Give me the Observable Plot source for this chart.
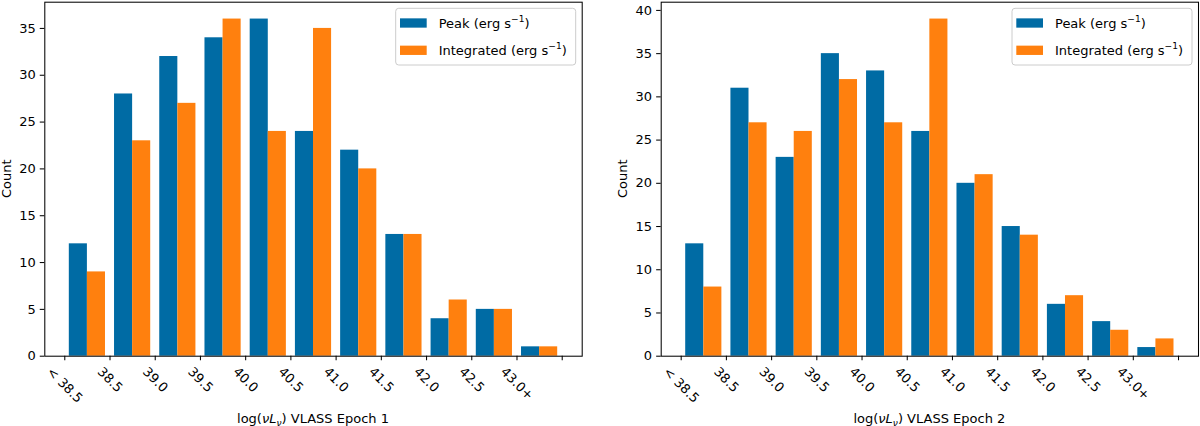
<!DOCTYPE html>
<html>
<head>
<meta charset="utf-8">
<script src="https://cdn.jsdelivr.net/npm/d3@7"></script>
<script src="https://cdn.jsdelivr.net/npm/@observablehq/plot@0.6"></script>
<style>
  html, body { margin: 0; padding: 0; background: white; }
  #row { display: flex; width: 1200px; height: 426px; }
  #row svg { display: block; }
</style>
</head>
<body>
<div id="row"></div>
<script>
// ---- data ----
const binLabels = ["< 38.5", "38.5", "39.0", "39.5", "40.0", "40.5", "41.0", "41.5", "42.0", "42.5", "43.0+"];
const epoch1Peak       = [12, 28, 32, 34, 36, 24, 22, 13, 4, 5, 1];
const epoch1Integrated = [ 9, 23, 27, 36, 24, 35, 20, 13, 6, 5, 1];
const epoch2Peak       = [13, 31, 23, 35, 33, 26, 20, 15, 6, 4, 1];
const epoch2Integrated = [ 8, 27, 26, 32, 27, 39, 21, 14, 7, 3, 2];
const yTicks1 = [0, 5, 10, 15, 20, 25, 30, 35];
const yTicks2 = [0, 5, 10, 15, 20, 25, 30, 35, 40];
const seriesNames = ["Peak", "Integrated"];
const seriesColors = ["#006BA4", "#FF800E"];
const epochNames = ["1", "2"];

const W = 600, H = 426, FS = 13;
const PT = 1.3; // px per point

function makePanel(peak, integ, yTicks, epoch, marginLeft, marginRight) {
  const marginTop = 1.7, marginBottom = 70.3;
  const rows = [];
  peak.forEach((v, i) => rows.push({bin: i, series: "Peak", count: v}));
  integ.forEach((v, i) => rows.push({bin: i, series: "Integrated", count: v}));
  const yMax = 1.05 * d3.max(rows, d => d.count);
  const nEdges = binLabels.length + 1;
  const labelData = binLabels.map((label, i) => ({i, label}));

  const chart = Plot.plot({
    width: W, height: H,
    marginLeft, marginRight, marginTop, marginBottom,
    style: {fontFamily: "DejaVu Sans", fontSize: FS + "px", color: "black", background: "white", overflow: "visible"},
    x: {type: "linear", domain: [-0.442, nEdges - 1 + 0.442]},
    y: {domain: [0, yMax]},
    color: {domain: seriesNames, range: seriesColors},
    marks: [
      Plot.rectY(rows, {
        x1: d => d.bin + (d.series === "Peak" ? 0.1 : 0.5),
        x2: d => d.bin + (d.series === "Peak" ? 0.5 : 0.9),
        y: "count", fill: "series", insetLeft: 0, insetRight: 0
      }),
      Plot.frame({stroke: "black", strokeWidth: 0.8 * PT}),
      Plot.axisY({ticks: yTicks, tickSize: 3.5 * PT, tickPadding: 3.5 * PT, label: null, strokeWidth: 0.8 * PT}),
      Plot.axisX({ticks: d3.range(nEdges), tickSize: 3.5 * PT, tickFormat: () => "", label: null, strokeWidth: 0.8 * PT}),
      Plot.text(labelData, {
        x: "i", y: () => 0, text: "label", rotate: 45,
        textAnchor: "middle", lineAnchor: "middle",
        dy: 7 * PT, fill: "black"
      })
    ]
  });
  document.getElementById("row").appendChild(chart);

  const svg = d3.select(chart);
  // center rotated tick labels on their ticks (matplotlib ha=center, va=top)
  const hBox = 0.95 * FS;
  svg.selectAll('g[aria-label="text"] text').each(function () {
    const L = this.getComputedTextLength();
    const t = this.getAttribute("transform") || "";
    const m = /translate\(\s*([-\d.e]+)[ ,]+([-\d.e]+)\s*\)/.exec(t);
    if (!m) return;
    const x = +m[1], y = +m[2] + 0.35355 * (L + hBox);
    this.setAttribute("transform", `translate(${x},${y}) rotate(45)`);
  });

  const frameL = marginLeft, frameR = W - marginRight;
  const frameT = marginTop, frameB = H - marginBottom;

  // y label
  svg.append("text")
    .attr("transform", `translate(${frameL - 33.8},${(frameT + frameB) / 2}) rotate(-90)`)
    .attr("text-anchor", "middle")
    .attr("fill", "black")
    .attr("font-size", FS)
    .text("Count");

  // x label
  const xl = svg.append("text")
    .attr("x", (frameL + frameR) / 2).attr("y", 423)
    .attr("text-anchor", "middle").attr("fill", "black").attr("font-size", FS);
  xl.append("tspan").text("log(");
  xl.append("tspan").attr("font-style", "italic").text("νL");
  xl.append("tspan").attr("font-style", "italic").attr("font-size", 0.7 * FS).attr("dy", 2.5).text("ν");
  xl.append("tspan").attr("dy", -2.5).text(") VLASS Epoch " + epoch);

  // legend
  const lgW = 180, lgH = 56.7;
  const lg = svg.append("g").attr("transform", `translate(${frameR - 6 - lgW},${frameT + 6.6})`);
  lg.append("rect").attr("width", lgW).attr("height", lgH).attr("rx", 3)
    .attr("fill", "white").attr("fill-opacity", 0.8)
    .attr("stroke", "#cccccc").attr("stroke-width", 1);
  seriesNames.forEach((name, k) => {
    const yc = 14.7 + k * 27.3;
    lg.append("rect").attr("x", 4.3).attr("y", yc - 4.65).attr("width", 26.7).attr("height", 9.3)
      .attr("fill", seriesColors[k]);
    const t = lg.append("text").attr("x", 43).attr("y", yc).attr("dy", "0.36em")
      .attr("text-anchor", "start")
      .attr("fill", "black").attr("font-size", FS);
    t.append("tspan").text(name + " (erg s");
    t.append("tspan").attr("font-size", 0.7 * FS).attr("dy", -5.5).text("−1");
    t.append("tspan").attr("dy", 5.5).text(")");
  });
}

makePanel(epoch1Peak, epoch1Integrated, yTicks1, epochNames[0], 44.3, 18.3);
makePanel(epoch2Peak, epoch2Integrated, yTicks2, epochNames[1], 60.7, 2);
</script>
</body>
</html>
